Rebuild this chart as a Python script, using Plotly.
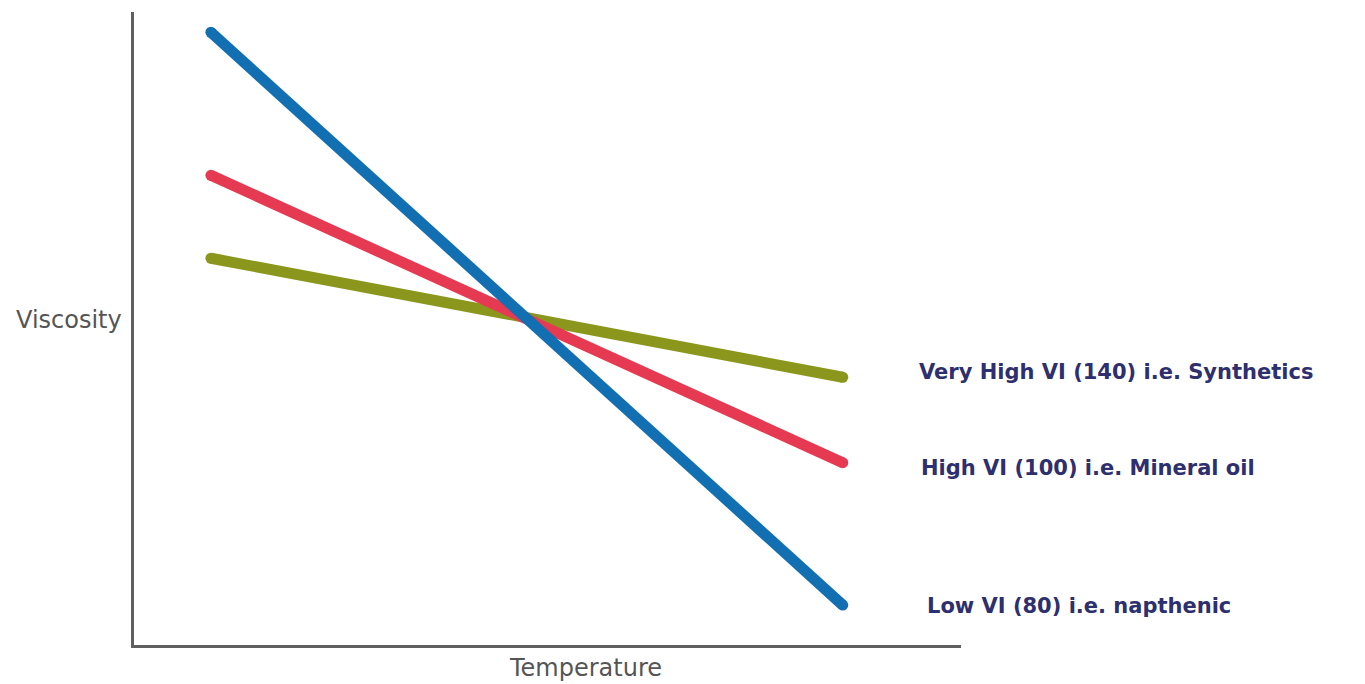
import plotly.graph_objects as go

# Data (arbitrary units)
temperature = [9.3, 85.7]
series_names = ["Low VI (80) i.e. napthenic", "High VI (100) i.e. Mineral oil", "Very High VI (140) i.e. Synthetics"]
low_vi = [96.8, 6.3]
high_vi = [74.2, 28.8]
very_high_vi = [61.1, 42.3]
colors = ["#126fb2", "#e63a52", "#8a971c"]
label_x = [95.6, 94.9, 94.7]
label_yshift = [-1, -5, 5]

fig = go.Figure()
order = [(very_high_vi, colors[2], series_names[2], label_x[2], label_yshift[2]),
         (high_vi, colors[1], series_names[1], label_x[1], label_yshift[1]),
         (low_vi, colors[0], series_names[0], label_x[0], label_yshift[0])]
for vals, col, name, lx, ys in order:
    fig.add_trace(go.Scatter(
        x=temperature, y=vals, mode="lines+markers", name=name,
        line=dict(color=col, width=11),
        marker=dict(color=col, size=11, line=dict(width=0)),
        showlegend=False, hoverinfo="skip", cliponaxis=False,
    ))
    fig.add_annotation(
        x=lx, y=vals[1], xref="x", yref="y", text="<b>%s</b>" % name,
        showarrow=False, xanchor="left", yanchor="middle", yshift=ys,
        font=dict(family="DejaVu Sans", size=21, color="#2d2f6e"),
    )

fig.add_annotation(xref="paper", yref="paper", x=-0.012, y=0.513, text="Viscosity",
                   showarrow=False, xanchor="right", yanchor="middle",
                   font=dict(family="DejaVu Sans", size=24, color="#555555"))
fig.add_annotation(xref="paper", yref="paper", x=0.5465, y=-0.036, text="Temperature",
                   showarrow=False, xanchor="center", yanchor="middle",
                   font=dict(family="DejaVu Sans", size=24, color="#555555"))

fig.update_xaxes(range=[0, 100], showline=True, linecolor="#5f5f5f", linewidth=3,
                 showgrid=False, zeroline=False, showticklabels=False, ticks="")
fig.update_yaxes(range=[0, 100], showline=True, linecolor="#5f5f5f", linewidth=3,
                 showgrid=False, zeroline=False, showticklabels=False, ticks="")
fig.update_layout(
    width=1365, height=684,
    margin=dict(l=126, r=412, t=4, b=47),
    paper_bgcolor="white", plot_bgcolor="white",
)
fig.write_html("out.html")
